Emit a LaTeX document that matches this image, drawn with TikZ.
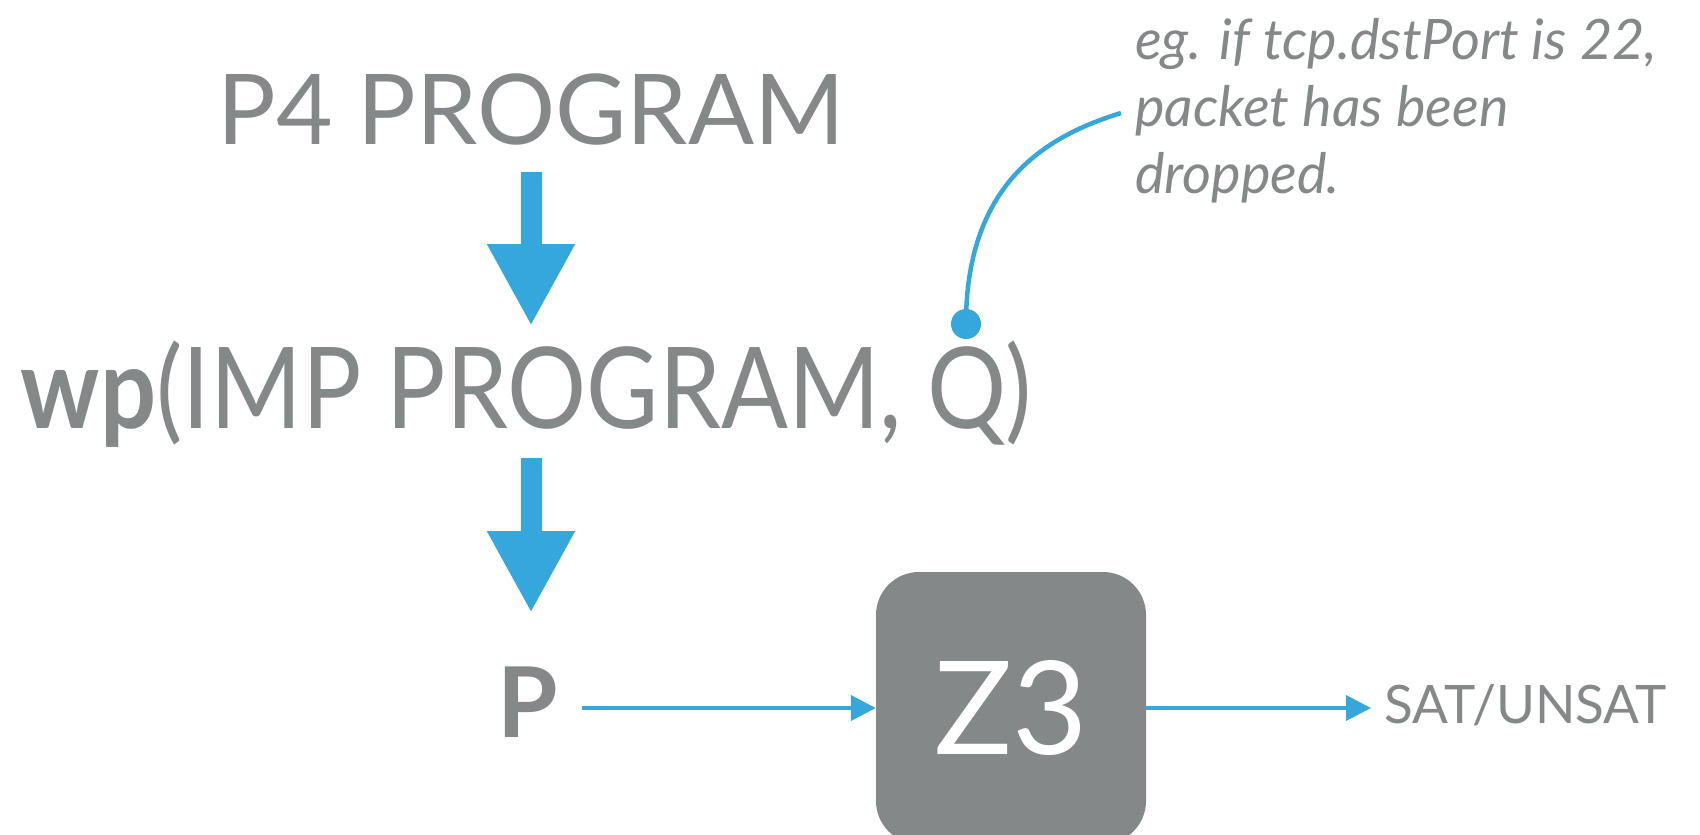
\documentclass[tikz,border=0pt]{standalone}
\usepackage{fontspec}
\setmainfont{Lato}
\usetikzlibrary{arrows.meta}
\definecolor{inkgray}{HTML}{858889}
\definecolor{flowblue}{HTML}{35A7DC}
\begin{document}
\begin{tikzpicture}[x=1pt,y=-1pt,
  txt/.style={inner sep=0pt, outer sep=0pt, text=inkgray},
  bigarrow/.style={draw=flowblue, line width=21pt, -{Triangle[width=82pt,length=82pt]}},
  thinarrow/.style={draw=flowblue, line width=4pt, -{Triangle[width=25pt,length=25pt]}},
  callout/.style={draw=flowblue, line width=4.5pt},
  solver/.style={fill=inkgray, rounded corners=43pt, minimum width=270pt,
    minimum height=272pt, inner sep=0pt, text=white},
]
\clip (0,0) rectangle (1700,835);

% program stages
\node[txt, anchor=base, font=\fontsize{97.7}{110}\selectfont] (prog) at (531,144) {P4 PROGRAM};
\node[txt, anchor=base, font=\fontsize{113}{130}\selectfont] (wp) at (526,428)
  {\scalebox{0.875}[1]{\textbf{wp}(IMP PROGRAM, Q)}};
\node[txt, anchor=base, font=\bfseries\fontsize{97.7}{110}\selectfont] (pre) at (528,737) {P};

% block arrows between stages
\draw[bigarrow] ([yshift=-28pt]prog.base) -- ([yshift=102pt]prog.base |- wp.base);
\draw[bigarrow] ([yshift=-30pt]prog.base |- wp.base) -- ([yshift=124pt]prog.base |- pre.base);

% solver box
\node[solver, font=\fontsize{129.8}{140}\selectfont] (z3) at (1011,708) {Z3};
\node[txt, anchor=base west, font=\fontsize{53}{60}\selectfont] (res) at (1384,723) {SAT/UNSAT};

\draw[thinarrow] ([xshift=24pt]pre.east |- z3.west) -- (z3.west);
\draw[thinarrow] (z3.east) -- ([xshift=-13pt]res.west |- z3.east);

% annotation on Q
\node[circle, fill=flowblue, minimum size=30pt, inner sep=0pt] (dot) at (966,324) {};
\node[txt, anchor=base west, align=left, font=\itshape\fontsize{55.8}{67}\selectfont] (note) at (1135,193)
  {eg. if tcp.dstPort is 22,\\packet has been\\dropped.};
\coordinate (noteend) at (1121,113);
\draw[callout] (dot.center) .. controls (966,180) and (1050,135) .. (noteend);
\end{tikzpicture}
\end{document}
